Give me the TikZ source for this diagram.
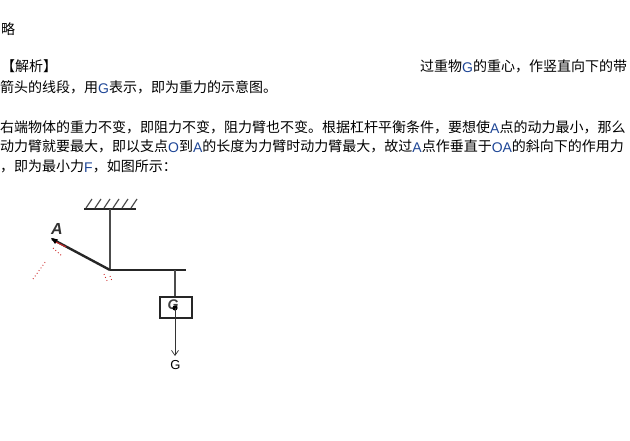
\documentclass[tikz,border=0pt]{standalone}
\usepackage{fontspec}
\setmainfont{Liberation Sans}
\newfontfamily\cjk{Noto Sans CJK SC}
\usetikzlibrary{arrows.meta}
\definecolor{latblue}{RGB}{30,70,150}
\definecolor{dotred}{RGB}{205,40,40}
\newcommand{\lat}[1]{{\fontsize{14}{14}\selectfont\rmfamily\color{latblue}\raisebox{-1pt}{#1}}}
\tikzset{
    textline/.style={anchor=base west,inner sep=0pt,font=\cjk\fontsize{14}{14}\selectfont},
    barline/.style={line width=2pt,black!85},
    thinline/.style={line width=1.2pt,black!70},
    reddots/.style={dotred,line width=0.9pt,dash pattern=on 0.9pt off 2.4pt}
}
\begin{document}
\begin{tikzpicture}[x=1pt,y=-1pt]
    \useasboundingbox (0,0) rectangle (630,441);

    % text
    \node[textline] (lue) at (1,35) {略};
    \node[textline] (jiexi) at (1,72) {【解析】};
    \node[textline] (guo) at (420,72) {过重物\lat{G}的重心，作竖直向下的带};
    \node[textline] (jian) at (0,93) {箭头的线段，用\lat{G}表示，即为重力的示意图。};
    \node[textline] (you) at (0,133) {右端物体的重力不变，即阻力不变，阻力臂也不变。根据杠杆平衡条件，要想使\lat{A}点的动力最小，那么};
    \node[textline] (dong) at (0,152) {动力臂就要最大，即以支点\lat{O}到\lat{A}的长度为力臂时动力臂最大，故过\lat{A}点作垂直于\lat{OA}的斜向下的作用力};
    \node[textline] (ji) at (0,172) {，即为最小力\lat{F}，如图所示：};

    % lever
    \coordinate (wallL) at (84,209);
    \coordinate (wallR) at (136,209);
    \coordinate (wallM) at (110,209);
    \coordinate (pivot) at (110,270);
    \coordinate (armA) at (52,239);
    \coordinate (armR) at (186,270);
    \coordinate (hang) at (175,270);
    \coordinate (tipG) at (175,356);

    \draw[barline] (wallL) -- (wallR);
    \foreach \x in {86,95,104,113,122,131}
        \draw[thinline] (\x,208) -- (\x+6,199);
    \draw[thinline] (wallM) -- (pivot);
    \draw[barline,line width=2.4pt] (pivot) -- (armA);
    \draw[barline] (pivot) -- (armR);

    \node[draw,black!85,line width=2pt,minimum width=32pt,minimum height=21pt,inner sep=0pt] (box) at (175.5,307) {};
    \draw[thinline] (hang) -- (box.north -| hang);
    \node[font=\fontsize{14}{14}\selectfont\rmfamily\itshape\bfseries,inner sep=0pt,black!75] (letG) at (173,305) {G};
    \fill[black] (175,308) circle (2.6pt);
    \draw[-{Straight Barb[length=5pt,width=7pt]},line width=0.7pt,black!80] (175,308) -- (tipG);
    \node[font=\fontsize{13}{13}\selectfont\rmfamily,inner sep=0pt] (labG) at (175.5,365) {G};
    \node[font=\fontsize{16}{16}\selectfont\rmfamily\itshape\bfseries,inner sep=0pt,black!80] (letA) at (57,229) {A};

    % red marks
    \fill[black] (51,238) -- (58,239.5) -- (55,244) -- cycle;
    \draw[dotred,line width=1.1pt] (56,242) -- (66,247);
    \draw[reddots] (33,279) -- (46,261);
    \draw[reddots] (104,274) -- (108,283);
    \draw[reddots] (110,276) -- (112,281);
    \draw[reddots] (53,248) -- (62,256);
\end{tikzpicture}
\end{document}
